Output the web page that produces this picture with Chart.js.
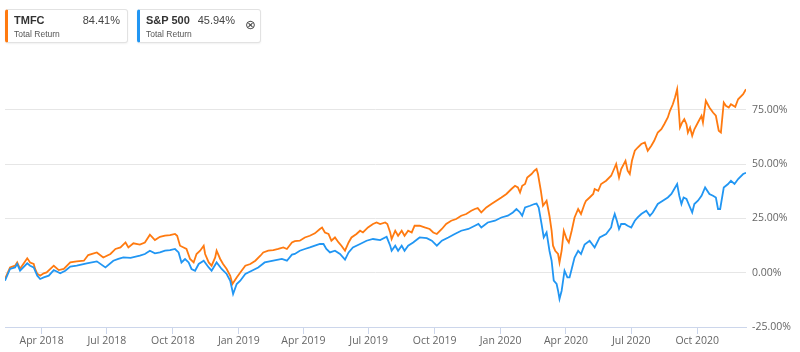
<!DOCTYPE html>
<html>
<head>
<meta charset="utf-8">
<title>TMFC vs S&amp;P 500 Total Return</title>
<script src="https://cdn.jsdelivr.net/npm/chart.js"></script>
<style>
  body { margin: 0; background: #fff; font-family: "Liberation Sans", Arial, sans-serif; }
  #wrap { position: relative; width: 800px; height: 352px; overflow: hidden; }
  #chart { position: absolute; left: 0; top: 0; }
  .card {
    position: absolute; top: 9px; height: 34px; box-sizing: border-box;
    border: 1px solid #e2e2e2; border-radius: 3px; background: #fff;
    box-shadow: 0 1px 2px rgba(0,0,0,0.06);
  }
  .card .name { position: absolute; left: 6px; top: 4px; font-size: 11px; line-height: 12px; font-weight: bold; color: #333; }
  .card .value { position: absolute; top: 4px; font-size: 11px; line-height: 12px; color: #444; }
  .card .sub { position: absolute; left: 6px; top: 19px; font-size: 8.5px; line-height: 10px; color: #555; }
  .card .close { position: absolute; right: 4px; top: 8px; font-size: 13px; line-height: 14px; color: #444; font-family: "DejaVu Sans", sans-serif; }
</style>
</head>
<body>
<div id="wrap">
  <canvas id="chart" width="800" height="352"></canvas>
  <div class="card" style="left:5px; width:123px; border-left:3px solid #ff7a10;">
    <span class="name">TMFC</span>
    <span class="value" style="right:7px;">84.41%</span>
    <span class="sub">Total Return</span>
  </div>
  <div class="card" style="left:137px; width:124px; border-left:3px solid #2196f3;">
    <span class="name">S&amp;P 500</span>
    <span class="value" style="right:25px;">45.94%</span>
    <span class="sub">Total Return</span>
    <span class="close">&#8855;</span>
  </div>
</div>
<script>
  // x values are days counted from 2018-01-01, y values are total return in %
  const tmfcDays = [39,46,53,56,60,70,74,79,81,84,88,93,97,107,114,121,130,139,149,155,167,176,186,193,200,207,211,218,227,234,241,248,255,262,269,276,279,283,288,292,297,302,306,311,316,318,323,327,332,334,339,343,348,353,356,362,367,374,381,388,395,399,406,413,420,427,432,439,443,450,457,464,471,478,481,485,490,494,499,504,508,513,518,522,529,534,538,545,552,557,562,569,572,576,578,583,587,592,596,601,606,610,617,624,631,636,641,648,654,661,668,675,682,689,694,698,703,710,717,724,731,738,745,750,754,757,760,764,767,773,777,780,782,786,789,794,798,801,803,806,810,812,815,818,822,825,829,833,838,842,847,849,854,859,861,866,870,877,884,889,891,895,898,904,907,910,913,917,921,926,931,935,940,944,949,954,958,963,966,970,973,976,978,980,983,986,989,991,994,997,1000,1005,1010,1012,1016,1021,1026,1030,1034,1037,1041,1044,1048,1051,1057,1061,1068,1072];
  const tmfcReturn = [-2.9,2.4,3.2,4.7,1.8,6.6,4.7,4.0,1.7,-0.5,-1.4,-0.3,0.1,3.2,1.2,1.7,4.7,5.2,5.5,8.1,9.3,7.0,8.6,10.9,11.6,13.9,11.6,13.5,12.9,13.9,17.5,15.0,16.5,17.0,17.3,17.8,17.0,12.4,11.6,10.9,6.3,4.7,8.6,10.1,12.4,8.6,4.7,3.2,7.0,10.1,6.3,4.0,1.7,-1.4,-5.2,-2.2,0.1,3.2,4.0,5.5,7.8,9.3,10.1,10.4,10.9,11.6,10.9,13.9,14.5,14.7,16.2,17.0,18.1,20.1,20.8,18.5,17.8,14.7,16.2,13.9,12.4,10.1,13.9,16.2,17.8,19.3,18.5,20.8,22.4,23.1,22.4,23.1,22.4,18.5,15.5,19.3,17.0,19.3,17.0,19.3,18.5,21.6,21.6,20.8,20.1,18.5,17.8,20.1,22.4,23.9,24.7,26.2,27.0,28.5,29.3,29.7,27.7,30.0,31.6,33.1,34.6,36.2,38.5,40.0,39.2,36.9,40.0,40.8,43.8,45.4,46.9,47.7,45.4,37.7,30.8,33.1,26.2,19.3,12.4,10.1,8.6,4.7,10.1,19.3,15.5,13.9,19.3,25.4,29.3,27.0,31.7,33.1,34.6,36.2,38.5,37.7,40.8,42.3,44.6,48.4,50.0,43.8,47.7,51.5,46.9,45.4,51.5,56.1,57.6,59.2,59.9,56.1,58.4,60.7,64.5,66.0,68.3,71.4,74.5,77.5,80.6,84.4,76.0,66.8,69.1,70.6,68.3,64.5,66.8,63.0,66.0,69.1,72.2,69.1,79.1,76.0,73.7,72.2,65.3,64.5,78.3,76.8,76.0,77.5,76.3,79.8,82.1,84.41];
  const spxDays = [39,46,53,56,60,70,74,79,84,88,93,100,107,116,123,130,139,153,167,179,190,197,204,214,227,234,241,248,255,262,269,276,281,285,290,295,299,304,309,316,323,327,334,341,348,353,357,362,367,374,383,392,401,413,425,432,439,443,450,457,464,471,478,483,487,492,499,506,513,518,524,534,543,552,562,571,576,578,583,587,592,596,601,608,617,627,634,641,648,657,666,675,685,694,699,703,712,722,731,740,747,752,757,760,764,771,777,780,783,787,790,794,798,801,804,808,810,812,815,819,823,826,829,833,838,842,847,854,861,868,877,884,886,889,892,895,898,903,907,912,917,921,926,933,938,942,949,956,963,968,972,976,979,982,985,989,993,997,1000,1005,1010,1015,1021,1026,1030,1033,1036,1041,1047,1051,1056,1061,1068,1072];
  const spxReturn = [-3.7,1.7,2.4,4.0,0.9,4.3,3.2,2.4,-1.4,-2.9,-2.2,-1.4,1.2,-0.3,0.9,2.8,3.2,4.3,5.2,2.4,5.5,6.3,7.0,6.8,7.8,8.6,10.1,8.9,9.3,10.1,10.4,10.9,9.3,4.7,6.3,4.7,1.7,0.9,4.0,5.5,2.4,0.9,4.7,1.7,-0.6,-3.7,-9.8,-5.2,-3.7,-0.6,0.9,2.4,4.7,5.5,6.3,5.5,8.3,8.6,10.1,10.9,11.6,12.4,13.2,13.2,10.9,9.3,10.1,8.6,6.0,9.3,11.6,13.2,14.7,15.5,15.0,16.5,12.4,10.1,12.4,10.1,12.4,10.1,12.4,13.9,16.2,15.9,14.7,12.4,14.7,16.2,17.8,19.3,20.1,21.6,22.4,20.8,23.1,23.9,25.4,26.2,27.7,29.3,27.7,26.2,30.0,30.8,31.6,31.8,30.0,22.4,16.2,18.5,10.1,5.5,-3.7,-5.2,-8.3,-12.1,-8.3,0.9,-2.2,-2.2,1.7,7.0,10.1,8.6,12.9,14.7,11.6,16.2,17.8,20.8,23.9,27.0,23.9,20.1,22.4,22.4,21.6,20.8,23.9,25.4,27.0,28.5,26.2,27.7,31.6,33.1,34.6,36.2,38.5,40.8,35.4,31.6,34.6,33.9,30.8,27.7,31.6,33.1,35.4,39.2,36.2,35.4,34.6,29.3,29.3,39.2,40.8,42.3,40.8,43.1,45.4,45.94];

  // quarter starts, days from 2018-01-01
  const tickDays = [90,181,273,365,455,546,638,730,821,912,1004];
  const tickLabels = ['Apr 2018','Jul 2018','Oct 2018','Jan 2019','Apr 2019','Jul 2019','Oct 2019','Jan 2020','Apr 2020','Jul 2020','Oct 2020'];
  const yTicks = [-25, 0, 25, 50, 75];

  const axisFont = { family: '"Open Sans", "DejaVu Sans", sans-serif', size: 10.5 };

  new Chart(document.getElementById('chart'), {
    type: 'line',
    data: {
      datasets: [{
        label: 'S&P 500',
        data: spxDays.map((d, i) => ({ x: d, y: spxReturn[i] })),
        borderColor: '#2196f3',
        borderWidth: 1.8,
        pointRadius: 0,
        tension: 0,
        fill: false
      }, {
        label: 'TMFC',
        data: tmfcDays.map((d, i) => ({ x: d, y: tmfcReturn[i] })),
        borderColor: '#ff7a10',
        borderWidth: 1.8,
        pointRadius: 0,
        tension: 0,
        fill: false
      }]
    },
    options: {
      responsive: false,
      devicePixelRatio: 1,
      animation: false,
      layout: { padding: { left: 5, top: 76, right: 0, bottom: 0 } },
      plugins: {
        legend: { display: false },
        tooltip: { enabled: false }
      },
      scales: {
        x: {
          type: 'linear',
          position: 'bottom',
          min: 39,
          max: 1072,
          afterBuildTicks: s => { s.ticks = tickDays.map(v => ({ value: v })); },
          afterFit: s => { s.height = 25; },
          ticks: {
            autoSkip: false,
            maxRotation: 0,
            padding: 1,
            color: '#666',
            font: axisFont,
            callback: v => tickLabels[tickDays.indexOf(v)]
          },
          grid: { drawOnChartArea: false, drawTicks: true, tickLength: 7, color: '#ccd6eb' },
          border: { display: true, color: '#ccd6eb' }
        },
        y: {
          position: 'right',
          min: -25,
          max: 90.5,
          afterBuildTicks: s => { s.ticks = yTicks.map(v => ({ value: v })); },
          afterFit: s => { s.width = 54; },
          ticks: {
            padding: 6,
            color: '#666',
            font: axisFont,
            callback: v => v.toFixed(2) + '%'
          },
          grid: { color: '#e6e6e6', drawTicks: false },
          border: { display: false }
        }
      }
    }
  });
</script>
</body>
</html>
